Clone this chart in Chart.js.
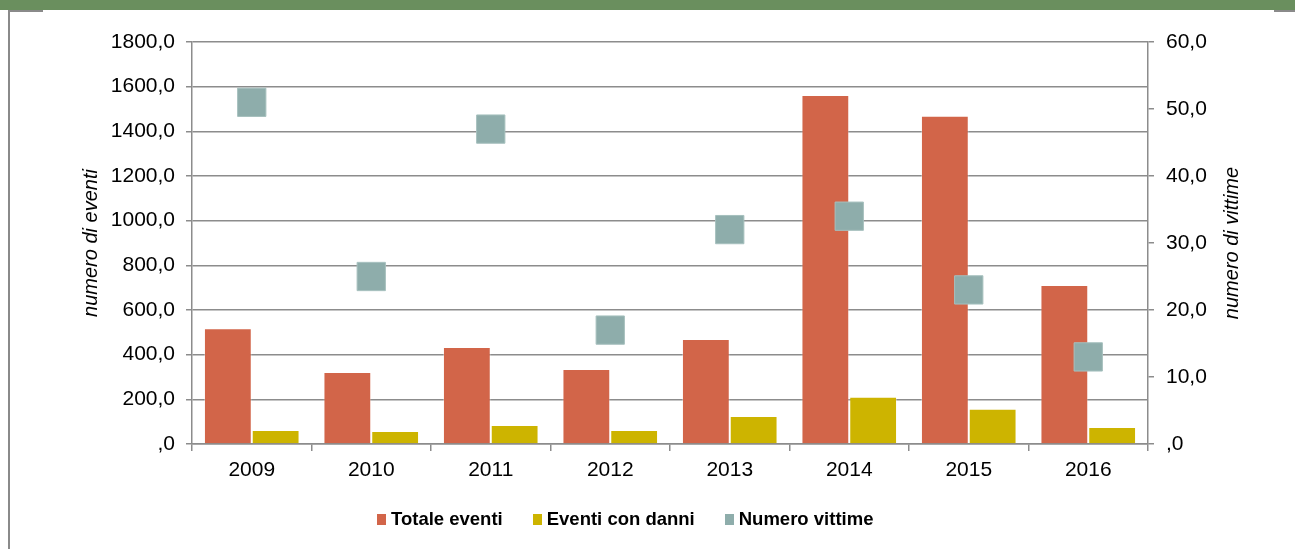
<!DOCTYPE html>
<html>
<head>
<meta charset="utf-8">
<script src="https://cdn.jsdelivr.net/npm/chart.js@4/dist/chart.umd.min.js"></script>
<style>
    html, body { margin: 0; padding: 0; background: #fff; }
    body { width: 1295px; height: 549px; position: relative; overflow: hidden; font-family: "Liberation Sans", Arial, sans-serif; }
    .fascia { position: absolute; left: 0; top: 0; width: 1295px; height: 10px; background: #6a8f5e; }
    .bordoSx { position: absolute; left: 8px; top: 10px; width: 2px; height: 539px; background: #8a8a8a; }
    .trattoSx { position: absolute; left: 9px; top: 10px; width: 34px; height: 2px; background: #8a8a8a; }
    .trattoDx { position: absolute; left: 1274px; top: 10px; width: 21px; height: 2px; background: #8a8a8a; }
    #grafico { position: absolute; left: 0; top: 0; }
    .legenda { position: absolute; left: 377px; top: 507px; display: flex; gap: 30px; }
    .voce { display: flex; align-items: center; font-weight: bold; font-size: 18.5px; color: #000; line-height: 24px; }
    .quadrato { display: inline-block; width: 9px; height: 11px; margin-right: 5px; }
</style>
</head>
<body>
<canvas id="grafico" width="1295" height="549"></canvas>
<div class="fascia"></div>
<div class="bordoSx"></div>
<div class="trattoSx"></div>
<div class="trattoDx"></div>
<div class="legenda" id="legenda"></div>

<script>
window.addEventListener("load", function(){
    //__________ dati __________//
    const anni = ["2009","2010","2011","2012","2013","2014","2015","2016"];
    const totaleEventi = [518, 322, 434, 336, 470, 1563, 1470, 712];
    const eventiConDanni = [63, 58, 85, 63, 125, 212, 158, 76];
    const numeroVittime = [51, 25, 47, 17, 32, 34, 23, 13];
    const tickSx = [0, 200, 400, 600, 800, 1000, 1200, 1400, 1600, 1800];
    const tickDx = [0, 10, 20, 30, 40, 50, 60];

    const arancio = "#d26549";
    const giallo = "#cdb400";
    const grigioVerde = "#8eadab";
    const grigio = "#8c8c8c";
    const font = "'Liberation Sans', Arial, sans-serif";

    // formato italiano tipo Excel: 0 -> ",0"
    function formato(v){
        if (v === 0) return ",0";
        return v.toFixed(1).replace(".", ",");
    }

    //__________ titoli assi (letti dal basso verso l'alto) __________//
    const titoliAssi = {
        id: "titoliAssi",
        afterDraw(chart){
            const ctx = chart.ctx;
            const area = chart.chartArea;
            const yc = (area.top + area.bottom) / 2;
            ctx.save();
            ctx.fillStyle = "#000";
            ctx.font = "italic 20px " + font;
            ctx.textAlign = "center";
            ctx.textBaseline = "middle";
            [[91, "numero di eventi"], [1232, "numero di vittime"]].forEach(function(t){
                ctx.save();
                ctx.translate(t[0], yc);
                ctx.rotate(-Math.PI / 2);
                ctx.fillText(t[1], 0, 0);
                ctx.restore();
            });
            ctx.restore();
        }
    };

    const ctx = document.getElementById("grafico").getContext("2d");
    const grafico = new Chart(ctx, {
        type: "bar",
        data: {
            labels: anni,
            datasets: [
                {
                    label: "Totale eventi",
                    data: totaleEventi,
                    backgroundColor: arancio,
                    borderColor: "rgba(255,255,255,0.35)",
                    borderWidth: 1,
                    yAxisID: "y",
                    categoryPercentage: 0.8,
                    barPercentage: 1.0,
                    order: 1
                },
                {
                    label: "Eventi con danni",
                    data: eventiConDanni,
                    backgroundColor: giallo,
                    borderColor: "rgba(255,255,255,0.35)",
                    borderWidth: 1,
                    yAxisID: "y",
                    categoryPercentage: 0.8,
                    barPercentage: 1.0,
                    order: 1
                },
                {
                    label: "Numero vittime",
                    type: "line",
                    data: numeroVittime,
                    showLine: false,
                    pointStyle: "rect",
                    pointRadius: 20,
                    pointHoverRadius: 20,
                    backgroundColor: grigioVerde,
                    borderColor: "#a6c0be",
                    borderWidth: 1,
                    yAxisID: "y1",
                    order: 0
                }
            ]
        },
        options: {
            responsive: false,
            animation: false,
            layout: { padding: { top: 42, left: 0, right: 0, bottom: 0 } },
            plugins: {
                legend: { display: false },
                tooltip: { enabled: false }
            },
            scales: {
                x: {
                    offset: true,
                    grid: { display: true, offset: true, drawOnChartArea: false, color: grigio, lineWidth: 1.5, tickLength: 7 },
                    border: { display: true, color: grigio, width: 1.5 },
                    ticks: { color: "#000", font: { family: font, size: 21 }, padding: 7 },
                    afterFit: function(s){ s.height = 105; }
                },
                y: {
                    position: "left",
                    min: 0,
                    max: 1800,
                    afterBuildTicks: function(s){ s.ticks = tickSx.map(function(v){ return { value: v }; }); },
                    grid: { color: grigio, lineWidth: 1.5, tickLength: 6 },
                    border: { display: true, color: grigio, width: 1.5 },
                    ticks: { color: "#000", font: { family: font, size: 21 }, padding: 11, callback: function(v){ return formato(v); } },
                    afterFit: function(s){ s.width = 192; }
                },
                y1: {
                    position: "right",
                    min: 0,
                    max: 60,
                    afterBuildTicks: function(s){ s.ticks = tickDx.map(function(v){ return { value: v }; }); },
                    grid: { drawOnChartArea: false, color: grigio, lineWidth: 1.5, tickLength: 6 },
                    border: { display: true, color: grigio, width: 1.5 },
                    ticks: { color: "#000", font: { family: font, size: 21 }, padding: 12, callback: function(v){ return formato(v); } },
                    afterFit: function(s){ s.width = 1295 - 1148; }
                }
            }
        },
        plugins: [titoliAssi]
    });

    //__________ legenda HTML __________//
    const legenda = document.getElementById("legenda");
    grafico.data.datasets.forEach(function(d){
        const voce = document.createElement("span");
        voce.className = "voce";
        const q = document.createElement("span");
        q.className = "quadrato";
        q.style.background = d.backgroundColor;
        voce.appendChild(q);
        voce.appendChild(document.createTextNode(d.label));
        legenda.appendChild(voce);
    });
});
</script>
</body>
</html>
